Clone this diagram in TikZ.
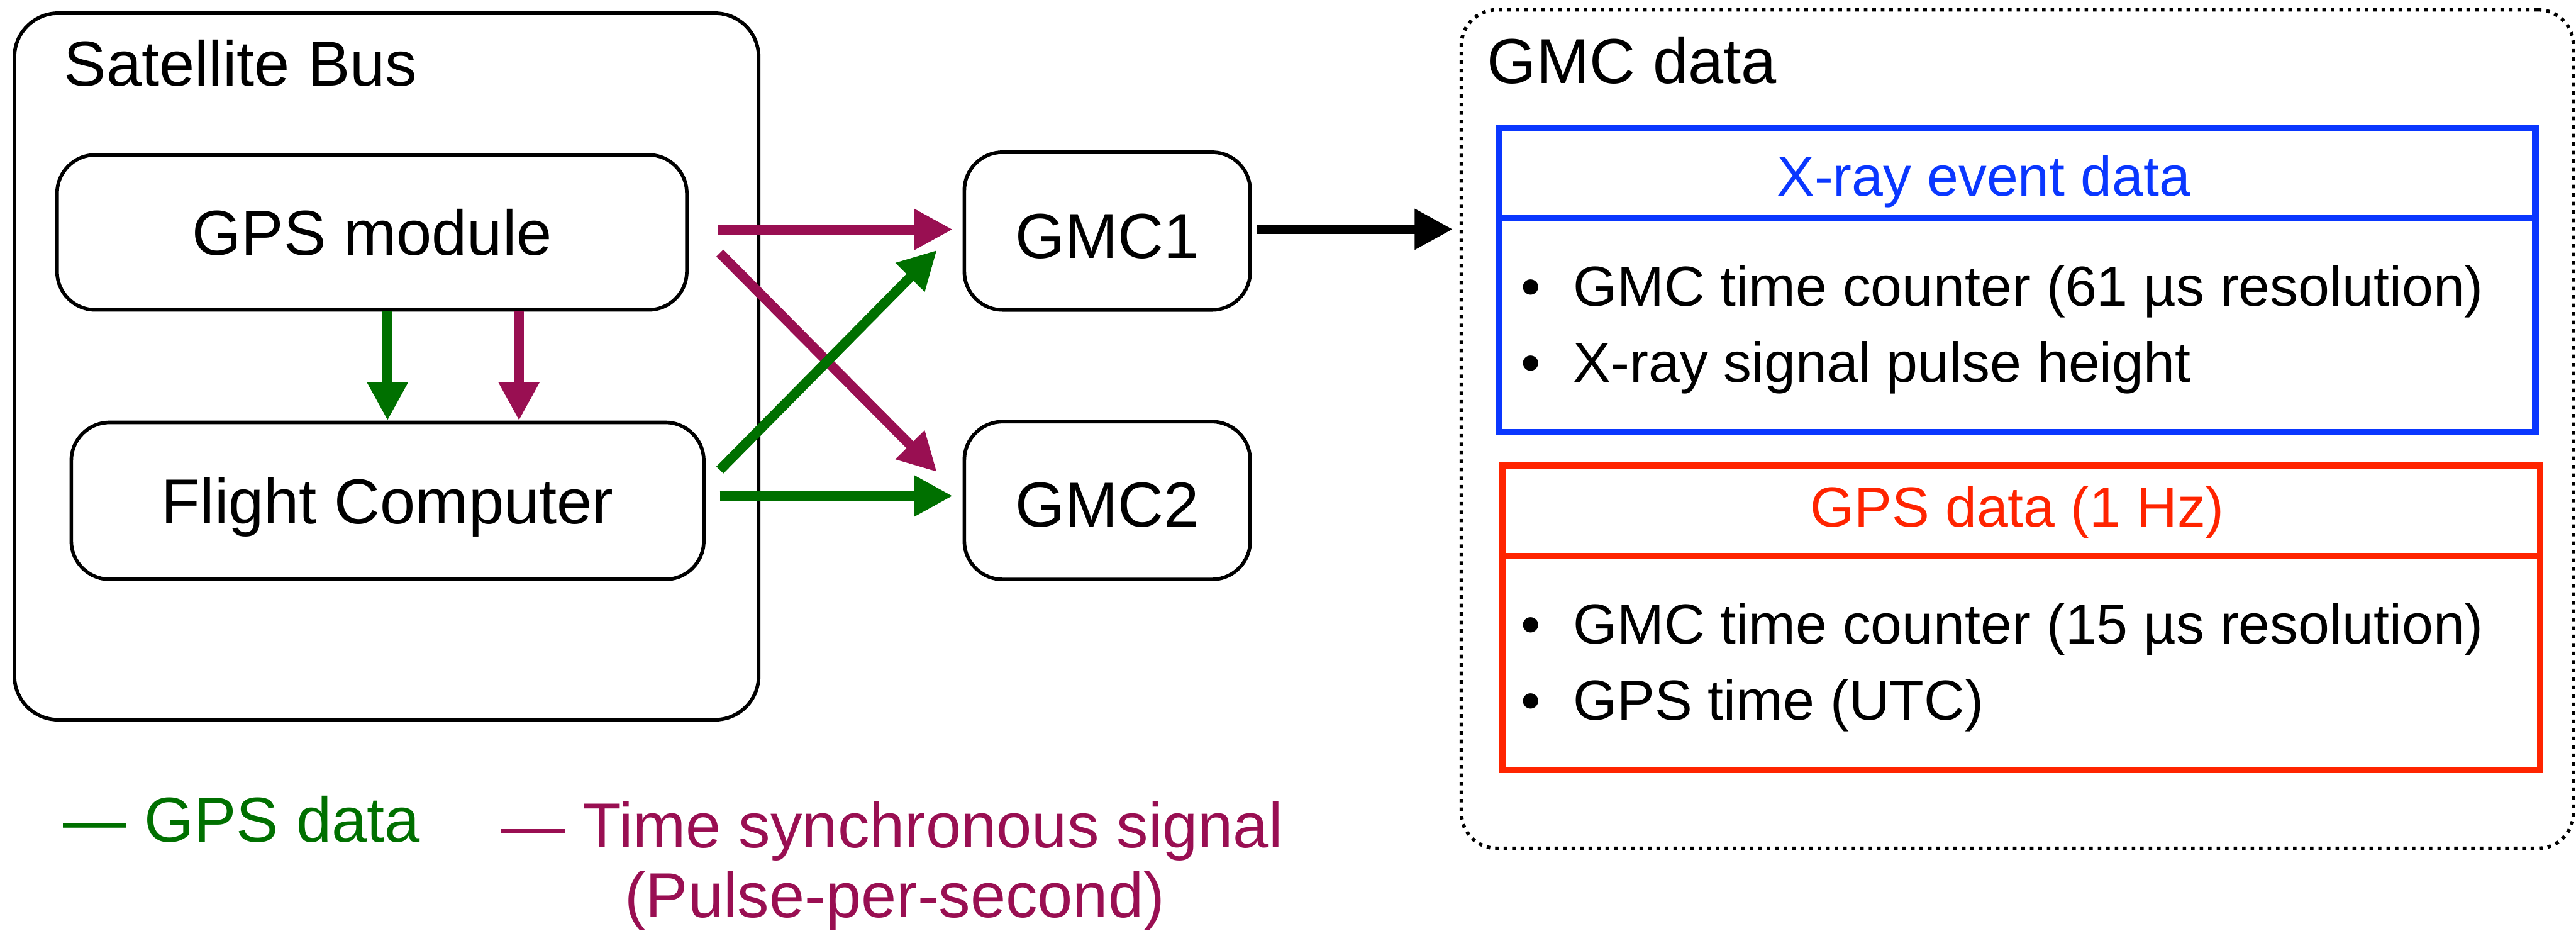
\documentclass[tikz,border=0pt]{standalone}
\usepackage{fontspec}
\setmainfont{Liberation Sans}
\usetikzlibrary{arrows.meta,calc}

\definecolor{gpsgreen}{RGB}{0,112,0}
\definecolor{ppspurple}{RGB}{153,15,82}
\definecolor{evblue}{RGB}{10,55,255}
\definecolor{gpsred}{RGB}{255,36,0}

\begin{document}
\begin{tikzpicture}[x=0.3pt,y=-0.3pt,
  bigfont/.style={font=\fontsize{11.6}{13.4}\selectfont},
  smallfont/.style={font=\fontsize{10.3}{12}\selectfont},
  unit/.style={draw, line width=0.65pt, rounded corners=7pt, inner sep=0pt,
    bigfont, text height=8.3pt, text depth=0pt},
  frame/.style={draw, line width=0.65pt, rounded corners=8pt, inner sep=0pt},
  dotframe/.style={draw, line width=0.65pt, dash pattern=on 0.64pt off 0.91pt,
    rounded corners=6.5pt, inner sep=0pt},
  databox/.style={draw, line width=1.2pt, inner sep=0pt},
  title/.style={anchor=base west, inner sep=0pt, bigfont},
  item/.style={anchor=base west, inner sep=0pt, smallfont},
  head/.style={anchor=base, inner sep=0pt, smallfont},
  sig/.style={line width=1.8pt, -{Triangle[length=7pt,width=7pt]}},
  gline/.style={sig, gpsgreen},
  pline/.style={sig, ppspurple},
  kline/.style={sig, black}
]
\useasboundingbox (0,0) rectangle (1568,566.5);

% satellite bus and its two units
\node[frame, minimum width=135.9pt, minimum height=129pt] (bus) at (235.3,223) {};
\node[title] (bustitle) at (38.3,52.3) {Satellite Bus};
\node[unit, minimum width=115pt, minimum height=28.3pt] (gps) at (226.4,141.4) {GPS module};
\node[unit, minimum width=115.5pt, minimum height=28.65pt] (fc) at (235.9,304.8) {Flight Computer};

% detectors
\node[unit, text height=9.9pt, minimum width=52.2pt, minimum height=28.8pt] (gmc1) at (674,140.6) {GMC1};
\node[unit, text height=9.5pt, minimum width=52.2pt, minimum height=28.8pt] (gmc2) at (674,304.6) {GMC2};

% data record
\node[dotframe, minimum width=203.1pt, minimum height=153.1pt] (gmcdata) at (1228,261.1) {};
\node[title] (datatitle) at (904.6,50.9) {GMC data};

\node[databox, draw=evblue, minimum width=189.2pt, minimum height=55.6pt] (evbox) at (1228,170.3) {};
\coordinate (evsep) at (0,132.4);
\draw[line width=1.2pt, evblue] (evbox.west |- evsep) -- (evbox.east |- evsep);
\node[head, text=evblue] (evhead) at (1207.5,119.3) {X-ray event data};
\node[item] (ev1b) at (925,186.1) {•};
\node[item] (ev1) at (957,186.1) {GMC time counter (61 µs resolution)};
\node[item] (ev2b) at (925,232.4) {•};
\node[item] (ev2) at (957,232.4) {X-ray signal pulse height};

\node[databox, draw=gpsred, minimum width=189.4pt, minimum height=55.6pt] (gpsbox) at (1230.4,375.8) {};
\coordinate (gpssep) at (0,338.4);
\draw[line width=1.2pt, gpsred] (gpsbox.west |- gpssep) -- (gpsbox.east |- gpssep);
\node[head, text=gpsred] (gpshead) at (1228,320.5) {GPS data (1 Hz)};
\node[item] (gp1b) at (925,391.7) {•};
\node[item] (gp1) at (957,391.7) {GMC time counter (15 µs resolution)};
\node[item] (gp2b) at (925,438) {•};
\node[item] (gp2) at (957,438) {GPS time (UTC)};

% signals inside the bus
\draw[gline] (gps.south -| fc.north) -- (fc.north);
\draw[pline] ($(gps.south -| fc.north)+(80,0)$) -- ($(fc.north)+(80,0)$);

% signals to the detectors
\draw[pline] ($(gps.east)+(17.7,-1.8)$) -- ($(gps.east -| gmc1.west)+(-6,-1.8)$);
\draw[pline] ($(gps.east)+(19,12.6)$) -- ($(gmc2.west)+(-15.6,-17.4)$);
\draw[gline] ($(fc.east)+(8.7,-18.8)$) -- ($(gmc1.west)+(-15.6,11.6)$);
\draw[gline] ($(fc.east)+(8.7,-3)$) -- ($(fc.east -| gmc2.west)+(-6,-3)$);

% detector output
\draw[kline] ($(gmc1.east)+(3.3,-1.1)$) -- ($(gmc1.east -| gmcdata.west)+(-4,-1.1)$);

% legend
\node[title, text=gpsgreen] (leggps) at (37.9,512.4) {— GPS data};
\node[anchor=base, inner sep=0pt, bigfont, text=ppspurple] (legpps) at (543,515.8) {— Time synchronous signal};
\node[anchor=base, inner sep=0pt, bigfont, text=ppspurple] (legpps2) at (544.6,558.5) {(Pulse-per-second)};
\end{tikzpicture}
\end{document}
